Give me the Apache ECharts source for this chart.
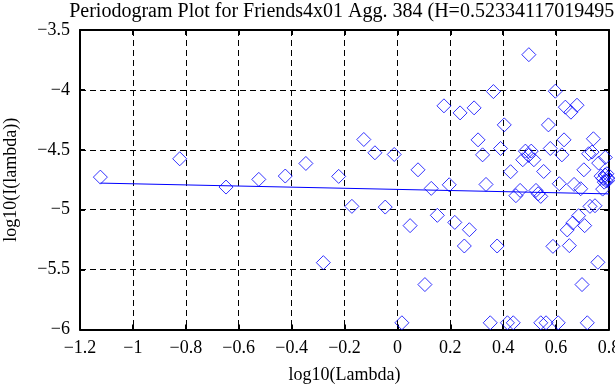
<!DOCTYPE html>
<html>
<head>
<meta charset="utf-8">
<script src="https://cdn.jsdelivr.net/npm/echarts@6/dist/echarts.min.js"></script>
<style>html,body{margin:0;padding:0;background:#fff}#c{width:615px;height:385px}</style>
</head>
<body>
<div id="c"></div>
<script>
var titleText = 'Periodogram Plot for Friends4x01 Agg. 384 (H=0.523341170194956)';
var xName = 'log10(Lambda)';
var yName = 'log10(I(lambda))';
var xTicks = { min: -1.2, max: 0.8, interval: 0.2 };
var yTicks = { min: -6, max: -3.5, interval: 0.5 };

var pointX = [-1.123,-0.823,-0.648,-0.524,-0.424,-0.346,-0.280,-0.222,-0.172,-0.127,
  -0.085,-0.046,-0.012,0.017,0.048,0.078,0.104,0.128,0.151,0.176,
  0.196,0.217,0.237,0.253,0.272,0.290,0.305,0.322,0.335,0.351,
  0.363,0.377,0.390,0.404,0.416,0.428,0.438,0.448,0.464,0.474,
  0.484,0.496,0.497,0.506,0.516,0.524,0.532,0.542,0.542,0.553,
  0.562,0.571,0.578,0.588,0.597,0.608,0.612,0.622,0.630,0.635,
  0.642,0.650,0.656,0.663,0.668,0.679,0.685,0.693,0.698,0.705,
  0.708,0.718,0.723,0.728,0.736,0.741,0.747,0.758,0.761,0.776,
  0.786,0.770,0.778,0.785,0.790,0.795,0.782,0.798,0.792];
var pointY = [-4.728,-4.575,-4.811,-4.747,-4.719,-4.614,-5.442,-4.722,-4.972,-4.414,
  -4.525,-4.978,-4.539,-5.944,-5.133,-4.667,-5.625,-4.822,-5.047,-4.133,
  -4.792,-5.106,-4.192,-5.303,-5.167,-4.150,-4.417,-4.542,-4.789,-5.944,
  -4.014,-5.303,-4.489,-4.292,-5.944,-4.683,-5.944,-4.883,-4.839,-4.583,
  -4.511,-4.547,-3.706,-4.511,-4.583,-4.839,-4.867,-4.889,-5.944,-4.681,
  -5.944,-4.292,-4.489,-5.306,-4.011,-5.944,-4.783,-4.542,-4.417,-4.144,
  -5.169,-5.300,-4.186,-5.111,-4.789,-4.128,-5.050,-4.825,-5.625,-4.667,
  -5.133,-5.944,-4.533,-4.972,-4.519,-4.408,-4.967,-5.439,-4.611,-4.828,
  -4.564,-4.720,-4.740,-4.710,-4.760,-4.735,-4.770,-4.750,-4.700];
var fitX = [-1.123, 0.8];
var fitY = [-4.778, -4.868];

var BLUE = '#0000ff';
var FONT = 'Liberation Serif';
function fmt(v){ var s = String(Math.round(v*10)/10); return s.replace('-', '\u2212'); }

var pts = pointX.map(function(x,i){ return [x, pointY[i]]; });
var fit = fitX.map(function(x,i){ return [x, fitY[i]]; });

var axisCommon = {
  type: 'value',
  axisLine: { show: true, onZero: false, lineStyle: { color: '#000', width: 2 } },
  axisTick: { show: true, inside: true, length: 5, lineStyle: { color: '#000', width: 2 } }
};
function mk(extra){ return Object.assign({}, axisCommon, extra); }

var chart = echarts.init(document.getElementById('c'), null, { renderer: 'canvas' });
chart.setOption({
  backgroundColor: '#fff',
  animation: false,
  title: { text: titleText, left: 345, top: -3, textAlign: 'center',
    textStyle: { fontFamily: FONT, fontSize: 20, fontWeight: 'normal', color: '#000' } },
  grid: { left: 80, right: 6, top: 30, bottom: 55.5, containLabel: false, outerBoundsMode: 'none' },
  xAxis: [
    mk({ position: 'bottom', min: xTicks.min, max: xTicks.max, interval: xTicks.interval,
      name: xName, nameLocation: 'middle', nameGap: 37,
      nameTextStyle: { fontFamily: FONT, fontSize: 18, color: '#000' },
      axisLabel: { formatter: fmt, margin: 10, fontFamily: FONT, fontSize: 18, color: '#000' },
      splitLine: { show: true, lineStyle: { color: '#000', width: 1, type: [6,4] } } }),
    mk({ position: 'top', min: xTicks.min, max: xTicks.max, interval: xTicks.interval,
      axisLabel: { show: false }, splitLine: { show: false } })
  ],
  yAxis: [
    mk({ position: 'left', min: yTicks.min, max: yTicks.max, interval: yTicks.interval,
      name: yName, nameLocation: 'middle', nameGap: 60,
      nameTextStyle: { fontFamily: FONT, fontSize: 18, color: '#000' },
      axisLabel: { formatter: fmt, margin: 10, fontFamily: FONT, fontSize: 18, color: '#000' },
      splitLine: { show: true, lineStyle: { color: '#000', width: 1, type: [6,4] } } }),
    mk({ position: 'right', min: yTicks.min, max: yTicks.max, interval: yTicks.interval,
      axisLabel: { show: false }, splitLine: { show: false } })
  ],
  series: [
    { type: 'scatter', data: pts, symbol: 'diamond', symbolSize: 14,
      itemStyle: { color: 'rgba(0,0,0,0)', borderColor: BLUE, borderWidth: 1 } },
    { type: 'line', data: fit, showSymbol: false, symbol: 'none',
      lineStyle: { color: BLUE, width: 1 } }
  ]
});
</script>
</body>
</html>
